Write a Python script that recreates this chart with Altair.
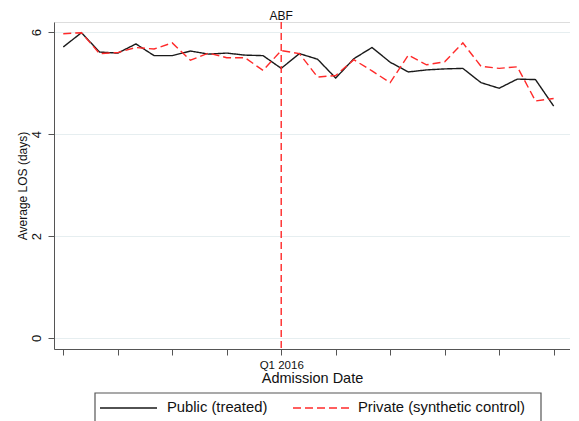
import altair as alt
import pandas as pd

periods = list(range(28))
public_vals = [5.71, 5.99, 5.61, 5.59, 5.77, 5.54, 5.54, 5.63, 5.57, 5.59, 5.55, 5.54, 5.29,
               5.58, 5.47, 5.10, 5.48, 5.70, 5.41, 5.22, 5.26, 5.28, 5.29, 5.01, 4.90, 5.08, 5.07, 4.55]
private_vals = [5.97, 5.99, 5.58, 5.60, 5.70, 5.67, 5.79, 5.45, 5.59, 5.50, 5.50, 5.25, 5.64,
                5.58, 5.12, 5.15, 5.46, 5.24, 5.01, 5.55, 5.36, 5.42, 5.79, 5.33, 5.29, 5.32, 4.65, 4.70]
series_names = ["Public (treated)", "Private (synthetic control)"]
x_tick_values = [0, 3, 6, 9, 12, 15, 18, 21, 24, 27]
y_tick_values = [0, 2, 4, 6]
event_period = 12
event_label = "ABF"
event_tick_label = "Q1 2016"

FONT = "Liberation Sans"
COLORS = ["#1a1a1a", "#ff2a2a"]
DASHES = [[1, 0], [8, 4]]

df = pd.DataFrame({
    "period": periods * 2,
    "value": public_vals + private_vals,
    "series": [series_names[0]] * len(periods) + [series_names[1]] * len(periods),
    "order": list(range(len(periods))) * 2,
})
ev = pd.DataFrame({"period": [event_period], "label": [event_label]})
leg = pd.DataFrame({"series": series_names})

xscale = alt.Scale(domain=[-0.51, 27.9], nice=False, zero=False)
yscale = alt.Scale(domain=[-0.216, 6.2], nice=False, zero=False)
cscale = alt.Scale(domain=series_names, range=COLORS)
dscale = alt.Scale(domain=series_names, range=DASHES)

lines = alt.Chart(df).mark_line(strokeWidth=1.4).encode(
    x=alt.X("period:Q", scale=xscale,
            axis=alt.Axis(values=x_tick_values, title="Admission Date",
                          labelExpr=f"datum.value == {event_period} ? '{event_tick_label}' : ''",
                          grid=False, tickSize=6, labelPadding=4, labelFontSize=11.5,
                          titleFontSize=14.5, titleFontWeight="normal", titlePadding=1,
                          labelFont=FONT, titleFont=FONT, domainColor="#555555",
                          tickColor="#555555", labelColor="#111111", titleColor="#111111")),
    y=alt.Y("value:Q", scale=yscale,
            axis=alt.Axis(values=y_tick_values, title="Average LOS (days)",
                          labelAngle=270, labelAlign="center", labelBaseline="bottom",
                          tickSize=6, labelPadding=5, labelFontSize=13,
                          titleFontSize=12, titleFontWeight="normal", titlePadding=1,
                          labelFont=FONT, titleFont=FONT, domainColor="#555555",
                          tickColor="#555555", labelColor="#111111", titleColor="#111111",
                          grid=True, gridColor="#e6eef0", gridWidth=1)),
    color=alt.Color("series:N", scale=cscale, legend=None),
    strokeDash=alt.StrokeDash("series:N", scale=dscale, legend=None),
    order="order:Q",
)

rule = alt.Chart(ev).mark_rule(color="#ff2a2a", strokeWidth=1.4, strokeDash=[7, 4]).encode(
    x=alt.X("period:Q", scale=xscale)
)

txt = alt.Chart(ev).mark_text(fontSize=12, font=FONT, color="#111111", baseline="middle").encode(
    x=alt.X("period:Q", scale=xscale),
    y=alt.value(-6),
    text="label:N",
)

# manual legend (pixel positions relative to the plot area's origin)
box = alt.Chart(leg).transform_filter(alt.datum.series == series_names[0]).mark_rect(
    fill="white", stroke="#555555", strokeWidth=1.2
).encode(x=alt.value(41), x2=alt.value(487), y=alt.value(371), y2=alt.value(430))

sym_x = [(46, 103), (239, 296)]
lab_x = [113, 304]
leg_y = 386
legend_layers = [box]
for i, name in enumerate(series_names):
    sub = alt.Chart(leg).transform_filter(alt.datum.series == name)
    legend_layers.append(
        sub.mark_rule(strokeWidth=1.5).encode(
            x=alt.value(sym_x[i][0]), x2=alt.value(sym_x[i][1]), y=alt.value(leg_y),
            color=alt.Color("series:N", scale=cscale, legend=None),
            strokeDash=alt.StrokeDash("series:N", scale=dscale, legend=None),
        )
    )
    legend_layers.append(
        sub.mark_text(align="left", baseline="middle", fontSize=14.8, font=FONT, color="#111111").encode(
            x=alt.value(lab_x[i]), y=alt.value(leg_y), text="series:N"
        )
    )

chart = alt.layer(lines, rule, txt, *legend_layers).properties(
    width=516, height=327,
    autosize=alt.AutoSizeParams(type="none"),
    padding={"left": 46, "top": 14, "right": 0, "bottom": 78},
).configure_view(stroke=None).configure(background="white")

chart.save("out.html", embed_options={"renderer": "svg", "actions": False})
